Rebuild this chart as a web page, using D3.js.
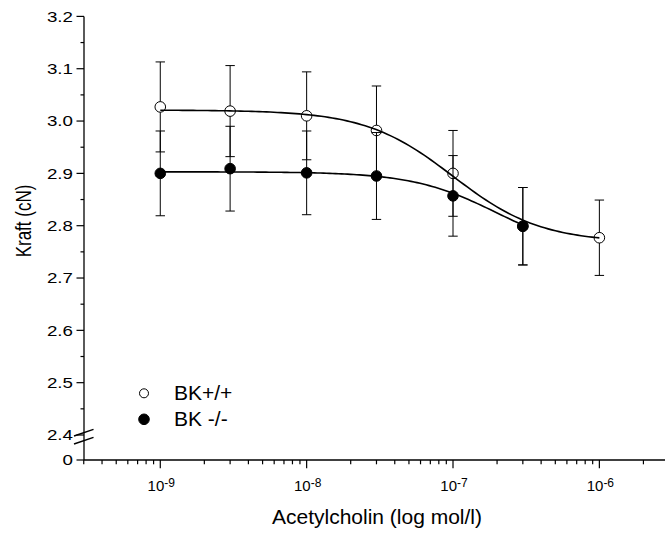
<!DOCTYPE html>
<html>
<head>
    <title>Kraft vs Acetylcholin</title>
    <script src="https://d3js.org/d3.v7.min.js"></script>
    <style>
        body { margin: 0; background: #fff; }
        text { font-family: Arial, "Liberation Sans", sans-serif; fill: #000; }
        .xtick-label { font-size: 15px; }
        .ytick-label { font-size: 15px; }
        .axis-title { font-size: 21px; }
        .legend-text { font-size: 21px; }
    </style>
</head>
<body>
<div id="chart"></div>
<script>
// concentrations (mol/l)
const concWT = [1e-9, 3e-9, 1e-8, 3e-8, 1e-7, 3e-7, 1e-6];
const concKO = [1e-9, 3e-9, 1e-8, 3e-8, 1e-7, 3e-7];

// BK+/+ : mean force and error (cN)
const meanWT = [3.027, 3.019, 3.010, 2.982, 2.900, 2.799, 2.777];
const errWT  = [0.086, 0.087, 0.084, 0.085, 0.082, 0.074, 0.072];

// BK -/- : mean force and error (cN)
const meanKO = [2.900, 2.909, 2.901, 2.895, 2.857, 2.799];
const errKO  = [0.081, 0.081, 0.080, 0.083, 0.077, 0.074];

// fitted dose-response curves: [top, bottom, logEC50, hill]
const fitWT = [3.021, 2.768, -7.0, 1.45];
const fitKO = [2.903, 2.746, -6.7, 1.5];

const seriesNames = ["BK+/+", "BK -/-"];
const yTicks = [2.4, 2.5, 2.6, 2.7, 2.8, 2.9, 3.0, 3.1, 3.2];
const xDecades = [1e-9, 1e-8, 1e-7, 1e-6];

const width = 665, height = 534;

const svg = d3.select("#chart").append("svg")
    .attr("width", width)
    .attr("height", height);

const x = d3.scaleLog().domain([3e-10, 3e-6]).range([83.75, 669.2]);
const y = d3.scaleLinear().domain([2.4, 3.2]).range([435, 16.4]);
const xAxisY = 460;   // y position of the "0" tick / x axis
const axisX = 84;

// --- x axis ---
svg.append("line")
    .attr("x1", axisX).attr("x2", width)
    .attr("y1", xAxisY).attr("y2", xAxisY)
    .attr("stroke", "#000").attr("stroke-width", 1.3);

const minorX = [];
for (let e = -10; e <= -6; e++) {
    for (let m = 2; m <= 9; m++) {
        const v = m * Math.pow(10, e);
        if (v >= 2.99e-10 && v <= 3e-6) minorX.push(v);
    }
}
svg.selectAll(".xminor").data(minorX).enter().append("line")
    .attr("x1", d => x(d)).attr("x2", d => x(d))
    .attr("y1", xAxisY).attr("y2", xAxisY + 4.3)
    .attr("stroke", "#000").attr("stroke-width", 1.2);

svg.selectAll(".xmajor").data(xDecades).enter().append("line")
    .attr("x1", d => x(d)).attr("x2", d => x(d))
    .attr("y1", xAxisY).attr("y2", xAxisY + 8.3)
    .attr("stroke", "#000").attr("stroke-width", 1.2);

const xl = svg.selectAll(".xlabel").data(xDecades).enter().append("text")
    .attr("class", "xtick-label")
    .attr("x", d => x(d) + 1)
    .attr("y", 491)
    .attr("text-anchor", "middle");
xl.append("tspan").text("10");
xl.append("tspan")
    .attr("dy", -4.5)
    .style("font-size", "12px")
    .text(d => Math.round(Math.log10(d)));

svg.append("text")
    .attr("class", "axis-title")
    .attr("x", 377).attr("y", 524)
    .attr("text-anchor", "middle")
    .text("Acetylcholin (log mol/l)");

// --- y axis (with break) ---
svg.append("line")
    .attr("x1", axisX).attr("x2", axisX)
    .attr("y1", y(3.2)).attr("y2", xAxisY)
    .attr("stroke", "#000").attr("stroke-width", 1.3);

const yMinor = d3.range(2.45, 3.2, 0.1);
svg.selectAll(".yminor").data(yMinor).enter().append("line")
    .attr("x1", axisX - 3.5).attr("x2", axisX)
    .attr("y1", d => y(d)).attr("y2", d => y(d))
    .attr("stroke", "#000").attr("stroke-width", 1.2);

svg.selectAll(".ymajor").data(yTicks).enter().append("line")
    .attr("x1", axisX - 7.5).attr("x2", axisX)
    .attr("y1", d => y(d)).attr("y2", d => y(d))
    .attr("stroke", "#000").attr("stroke-width", 1.2);

// y tick labels look horizontally wide in the reference
svg.selectAll(".ylabel").data(yTicks).enter().append("text")
    .attr("class", "ytick-label")
    .attr("transform", d => `translate(73,${y(d) + 5.2}) scale(1.25,1)`)
    .attr("text-anchor", "end")
    .text(d => d.toFixed(1));

// zero tick below the break
svg.append("line")
    .attr("x1", axisX - 7.5).attr("x2", axisX)
    .attr("y1", xAxisY).attr("y2", xAxisY)
    .attr("stroke", "#000").attr("stroke-width", 1.2);
svg.append("text")
    .attr("class", "ytick-label")
    .attr("transform", `translate(73,${xAxisY + 5.2}) scale(1.25,1)`)
    .attr("text-anchor", "end")
    .text("0");

// break marks
[0, 8].forEach(off => {
    svg.append("line")
        .attr("x1", 74).attr("y1", 436 + off)
        .attr("x2", 93.5).attr("y2", 429.3 + off)
        .attr("stroke", "#000").attr("stroke-width", 1.4);
});

svg.append("text")
    .attr("class", "axis-title")
    .style("font-size", "17px")
    .attr("transform", "translate(31,221) scale(1.25,1) rotate(-90)")
    .attr("text-anchor", "middle")
    .text("Kraft (cN)");

// --- data ---
function doseResp(p, c) {
    const [top, bottom, logEC, h] = p;
    return bottom + (top - bottom) / (1 + Math.pow(10, (Math.log10(c) - logEC) * h));
}

function curvePoints(p, c0, c1) {
    const pts = [];
    const n = 120;
    for (let i = 0; i <= n; i++) {
        const c = Math.pow(10, Math.log10(c0) + (Math.log10(c1) - Math.log10(c0)) * i / n);
        pts.push([c, doseResp(p, c)]);
    }
    return pts;
}

const line = d3.line().x(d => x(d[0])).y(d => y(d[1]));

function drawSeries(conc, mean, err, fill) {
    const g = svg.append("g");
    const pts = conc.map((c, i) => ({ c: c, m: mean[i], e: err[i] }));
    g.selectAll(".bar").data(pts).enter().append("line")
        .attr("x1", d => x(d.c)).attr("x2", d => x(d.c))
        .attr("y1", d => y(d.m + d.e)).attr("y2", d => y(d.m - d.e))
        .attr("stroke", "#000").attr("stroke-width", 1);
    [1, -1].forEach(s => {
        g.selectAll(".cap").data(pts).enter().append("line")
            .attr("x1", d => x(d.c) - 4.7).attr("x2", d => x(d.c) + 4.7)
            .attr("y1", d => y(d.m + s * d.e)).attr("y2", d => y(d.m + s * d.e))
            .attr("stroke", "#000").attr("stroke-width", 1);
    });
    g.selectAll("circle").data(pts).enter().append("circle")
        .attr("cx", d => x(d.c)).attr("cy", d => y(d.m))
        .attr("r", 5.3)
        .attr("fill", fill)
        .attr("stroke", "#000").attr("stroke-width", 1);
}

drawSeries(concWT, meanWT, errWT, "#fff");
drawSeries(concKO, meanKO, errKO, "#000");

svg.append("path")
    .datum(curvePoints(fitWT, 1e-9, 1e-6))
    .attr("d", line)
    .attr("fill", "none").attr("stroke", "#000").attr("stroke-width", 1.6);
svg.append("path")
    .datum(curvePoints(fitKO, 1e-9, 3e-7))
    .attr("d", line)
    .attr("fill", "none").attr("stroke", "#000").attr("stroke-width", 1.6);

// --- legend ---
const legend = svg.append("g");
[["#fff", 393.3, 4.5], ["#000", 419.3, 5.3]].forEach((s, i) => {
    legend.append("circle")
        .attr("cx", 144).attr("cy", s[1]).attr("r", s[2])
        .attr("fill", s[0]).attr("stroke", "#000").attr("stroke-width", 1);
    legend.append("text")
        .attr("class", "legend-text")
        .attr("x", 174).attr("y", s[1] + 6.8)
        .text(seriesNames[i]);
});
</script>
</body>
</html>
